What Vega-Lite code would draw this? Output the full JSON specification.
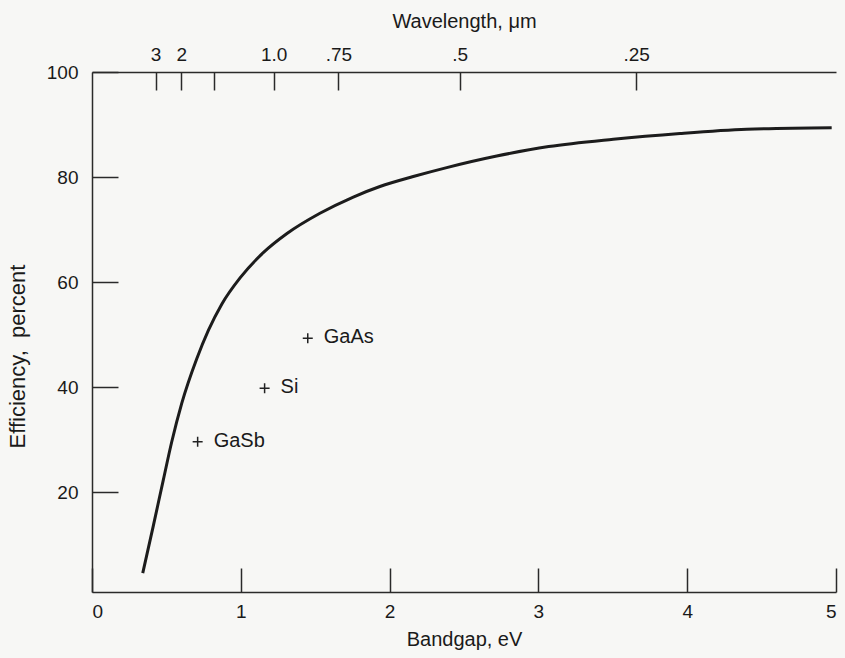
{
  "$schema": "https://vega.github.io/schema/vega-lite/v6.json",
  "width": 744,
  "height": 520,
  "autosize": {"type": "none"},
  "padding": {"left": 92, "top": 72, "right": 9, "bottom": 66},
  "background": "#f7f7f5",
  "config": {
    "view": {"stroke": null},
    "font": "Liberation Sans",
    "axis": {
      "domainColor": "#2a2a2a",
      "domainWidth": 1.5,
      "tickColor": "#2a2a2a",
      "tickWidth": 1.5,
      "labelColor": "#1a1a1a",
      "labelFontSize": 19,
      "labelFont": "Liberation Sans",
      "titleColor": "#1a1a1a",
      "titleFontSize": 20,
      "titleFontWeight": "normal",
      "titleFont": "Liberation Sans",
      "grid": false
    }
  },
  "datasets": {
    "curve": [
      {"bandgap": 0.341, "efficiency": 4.6},
      {"bandgap": 0.412, "efficiency": 13.6},
      {"bandgap": 0.479, "efficiency": 22.3},
      {"bandgap": 0.536, "efficiency": 29.6},
      {"bandgap": 0.603, "efficiency": 36.9},
      {"bandgap": 0.704, "efficiency": 45.4},
      {"bandgap": 0.782, "efficiency": 50.8},
      {"bandgap": 0.872, "efficiency": 55.8},
      {"bandgap": 0.995, "efficiency": 60.8},
      {"bandgap": 1.151, "efficiency": 65.6},
      {"bandgap": 1.308, "efficiency": 69.2},
      {"bandgap": 1.532, "efficiency": 73.1},
      {"bandgap": 1.756, "efficiency": 76.2},
      {"bandgap": 1.935, "efficiency": 78.2},
      {"bandgap": 2.159, "efficiency": 80.1},
      {"bandgap": 2.384, "efficiency": 81.8},
      {"bandgap": 2.72, "efficiency": 84.0},
      {"bandgap": 3.069, "efficiency": 85.8},
      {"bandgap": 3.503, "efficiency": 87.2},
      {"bandgap": 3.952, "efficiency": 88.3},
      {"bandgap": 4.4, "efficiency": 89.1},
      {"bandgap": 4.971, "efficiency": 89.4}
    ],
    "materials": [
      {"material": "GaSb", "bandgap": 0.71, "efficiency": 29.6},
      {"material": "Si", "bandgap": 1.16, "efficiency": 39.8},
      {"material": "GaAs", "bandgap": 1.45, "efficiency": 49.3}
    ],
    "wavelength": [
      {"bandgap": 0.427, "label": "3"},
      {"bandgap": 0.6, "label": "2"},
      {"bandgap": 0.823, "label": ""},
      {"bandgap": 1.221, "label": "1.0"},
      {"bandgap": 1.656, "label": ".75"},
      {"bandgap": 2.471, "label": ".5"},
      {"bandgap": 3.657, "label": ".25"}
    ]
  },
  "layer": [
    {
      "data": {"name": "curve"},
      "mark": {"type": "line", "color": "#1c1c1c", "strokeWidth": 3, "interpolate": "monotone"},
      "encoding": {
        "x": {
          "field": "bandgap", "type": "quantitative",
          "scale": {"domain": [0, 5], "nice": false},
          "axis": {
            "orient": "bottom", "title": "Bandgap, eV",
            "values": [0, 1, 2, 3, 4, 5], "format": "d",
            "tickSize": -24, "labelPadding": 34, "titlePadding": 8
          }
        },
        "y": {
          "field": "efficiency", "type": "quantitative",
          "scale": {"domain": [1, 100], "nice": false, "zero": false},
          "axis": {
            "orient": "left", "title": "Efficiency,\u00a0\u00a0percent",
            "values": [20, 40, 60, 80, 100],
            "tickSize": -26, "labelPadding": 40,
            "titleFontSize": 22, "titleX": -63, "titleY": 284, "titleAngle": 270, "titleAlign": "center", "titleBaseline": "bottom"
          }
        }
      }
    },
    {
      "data": {"name": "materials"},
      "mark": {"type": "point", "shape": "M-1,0H1M0,-1V1", "size": 100, "stroke": "#222222", "strokeWidth": 1.5, "filled": false, "opacity": 1},
      "encoding": {
        "x": {"field": "bandgap", "type": "quantitative", "axis": null},
        "y": {"field": "efficiency", "type": "quantitative", "axis": null}
      }
    },
    {
      "data": {"name": "materials"},
      "mark": {"type": "text", "align": "left", "baseline": "middle", "dx": 16, "dy": -1, "fontSize": 20, "color": "#1a1a1a"},
      "encoding": {
        "x": {"field": "bandgap", "type": "quantitative", "axis": null},
        "y": {"field": "efficiency", "type": "quantitative", "axis": null},
        "text": {"field": "material"}
      }
    },
    {
      "data": {"name": "wavelength"},
      "mark": {"type": "rule", "opacity": 0},
      "encoding": {
        "x": {
          "field": "bandgap", "type": "quantitative",
          "axis": {
            "orient": "top", "title": "Wavelength, μm",
            "values": [0.427, 0.6, 0.823, 1.221, 1.656, 2.471, 3.657],
            "labelExpr": "datum.value < 0.5 ? '3' : datum.value < 0.7 ? '2' : datum.value < 1 ? '' : datum.value < 1.4 ? '1.0' : datum.value < 2 ? '.75' : datum.value < 3 ? '.5' : '.25'",
            "tickSize": -18, "labelPadding": 26, "titlePadding": 14
          }
        }
      }
    }
  ],
  "resolve": {"axis": {"x": "independent", "y": "independent"}}
}
